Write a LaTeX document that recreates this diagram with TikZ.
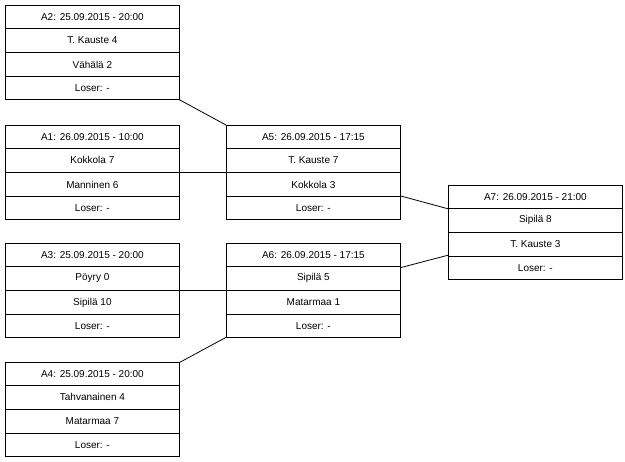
\documentclass[tikz,border=0pt]{standalone}
\usepackage{fontspec}
\setmainfont{Liberation Sans}
\tikzset{
  box/.style={draw, line width=0.8pt, minimum width=174pt, minimum height=94pt, inner sep=0pt, anchor=north west},
  rowline/.style={line width=0.8pt},
  txt/.style={inner sep=0pt, font=\fontsize{10}{12}\selectfont},
  link/.style={line width=0.8pt}
}
\newcommand\matchbox[7]{%
  \node[box] (#1) at (#2,#3) {};
  \draw[rowline] ([yshift=-23.5pt]#1.north west) -- ([yshift=-23.5pt]#1.north east);
  \draw[rowline] (#1.west) -- (#1.east);
  \draw[rowline] ([yshift=23.5pt]#1.south west) -- ([yshift=23.5pt]#1.south east);
  \node[txt] (#1-a) at ([yshift=-11.75pt]#1.north) {#4};
  \node[txt] (#1-b) at ([yshift=-35.25pt]#1.north) {#5};
  \node[txt] (#1-c) at ([yshift=35.25pt]#1.south) {#6};
  \node[txt] (#1-d) at ([yshift=11.75pt]#1.south) {#7};
}
\begin{document}
\begin{tikzpicture}[x=1pt,y=-1pt]
\useasboundingbox (0,0) rectangle (625,462);
\matchbox{A2}{5}{5}{A2: 25.09.2015 - 20:00}{T. Kauste 4}{Vähälä 2}{Loser: -}
\matchbox{A1}{5}{125}{A1: 26.09.2015 - 10:00}{Kokkola 7}{Manninen 6}{Loser: -}
\matchbox{A3}{5}{243}{A3: 25.09.2015 - 20:00}{Pöyry 0}{Sipilä 10}{Loser: -}
\matchbox{A4}{5}{362}{A4: 25.09.2015 - 20:00}{Tahvanainen 4}{Matarmaa 7}{Loser: -}
\matchbox{A5}{226}{125}{A5: 26.09.2015 - 17:15}{T. Kauste 7}{Kokkola 3}{Loser: -}
\matchbox{A6}{226}{243}{A6: 26.09.2015 - 17:15}{Sipilä 5}{Matarmaa 1}{Loser: -}
\matchbox{A7}{448}{185}{A7: 26.09.2015 - 21:00}{Sipilä 8}{T. Kauste 3}{Loser: -}
\draw[link] (A2) -- (A5);
\draw[link] (A1) -- (A5);
\draw[link] (A3) -- (A6);
\draw[link] (A4) -- (A6);
\draw[link] (A5) -- (A7);
\draw[link] (A6) -- (A7);
\end{tikzpicture}
\end{document}
